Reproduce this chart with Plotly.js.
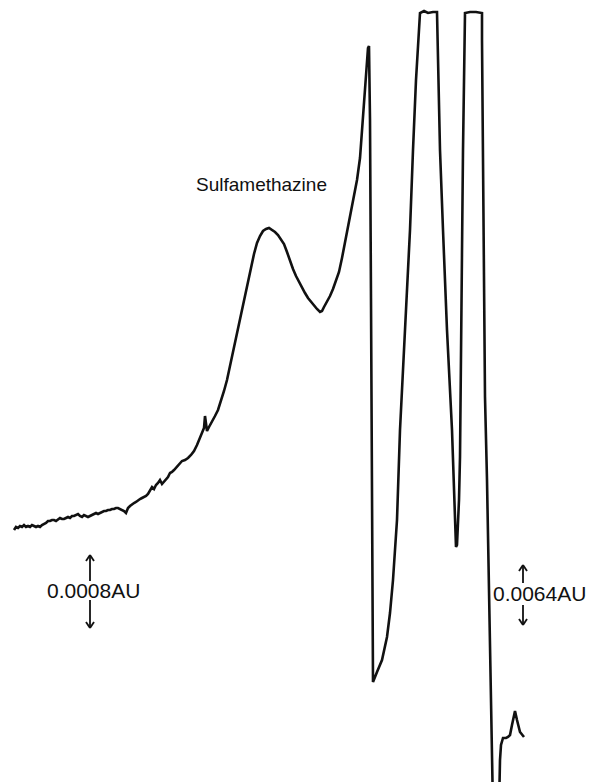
<!DOCTYPE html>
<html>
<head>
<meta charset="utf-8">
<script src="https://cdn.plot.ly/plotly-3.0.1.min.js"></script>
<style>html,body{margin:0;padding:0;background:#fff;}#chart{width:589px;height:782px;}</style>
</head>
<body>
<div id="chart"></div>
<script>
// Retention (arbitrary time units, left to right)
const time = [
  14,16,18,20,22,24,26,28,30,32,
  34,36,38,40,42,44,46,48,50,52,
  54,56,58,60,62,64,66,68,70,72,
  74,76,78,80,82,84,86,88,90,92,
  94,96,98,100,102,104,106,108,110,112,
  114,116,118,120,122,124,126,128,130,132,
  134,136,138,140,142,144,146,148,150,152,
  154,156,158,160,162,164,166,168,170,172,
  174,176,178,180,182,
  185,188,191,194,197,200,202,204,205,206,207,209,212,215,218,221,224,227,
  230,233,236,239,242,245,248,251,254,257,260,263,266,269,272,275,278,281,284,287,290,293,296,299,302,305,308,311,314,317,320,
  322,324,327,330,333,336,339,342,345,348,351,354,357,360,363,365,367,368,369,
  370,371,372,373,377,382,387,390,393,397,400,405,410,413,416,420,424,428,433,437,
  440,443,447,452,455,456,457,459,460,462,463,465,470,476,482,482,485,487,489,490,493,
  496,499,500,501,503,506,508,510,512,514,515,517,520,524
];
// Recorder pen position (px from top of chart paper); response = 782 - position
const penPos = [
  530,527,528,526,527,525,527,526,527,525,
  526,527,526,527,525,524,523,521,521,520,
  520,521,519,518,519,519,518,517,518,516,
  516,515,514,516,517,515,516,517,516,515,
  514,513,514,513,512,511,511,510,510,509,
  509,508,508,509,510,511,513,508,506,504,
  503,502,500,499,498,497,496,494,491,487,
  489,485,483,480,484,482,480,477,473,472,
  470,468,466,463,461,
  460,458,455,451,445,437,432,428,416,424,431,427,422,416,410,401,391,380,
  366,351,336,321,307,294,281,267,254,243,236,231,229,228,230,232,235,239,244,252,261,269,276,282,288,293,298,302,306,309,312,
  311,307,302,296,289,281,272,258,243,226,210,198,180,158,117,88,60,48,46,
  120,300,500,682,672,660,637,613,580,520,430,330,230,150,80,13,11,13,12,12,
  150,230,330,430,510,547,545,500,457,230,150,13,12,12,13,40,397,480,580,640,810,
  830,810,760,745,738,738,737,735,725,713,711,720,732,737
];
const signal = penPos.map(v => 782 - v);

const labels = ["Sulfamethazine", "0.0008AU", "0.0064AU"];

const black = '#111';
function arrowShapes(x, yTipUp, yTailUp, yTailDown, yTipDown) {
  const s = [];
  const L = (x0,y0,x1,y1) => ({type:'line', xref:'x', yref:'y', x0:x0, y0:782-y0, x1:x1, y1:782-y1, line:{color:black, width:1.8}});
  s.push(L(x, yTipUp, x, yTailUp));
  s.push(L(x-4, yTipUp+6, x, yTipUp));
  s.push(L(x+4, yTipUp+6, x, yTipUp));
  s.push(L(x, yTailDown, x, yTipDown));
  s.push(L(x-4, yTipDown-6, x, yTipDown));
  s.push(L(x+4, yTipDown-6, x, yTipDown));
  return s;
}

const shapes = [].concat(
  arrowShapes(90, 555, 581, 600, 628),
  arrowShapes(523, 565, 583, 605, 625)
);

const font = {family: 'Liberation Sans, Arial, sans-serif', color: black};

const data = [{
  x: time, y: signal, type: 'scatter', mode: 'lines',
  line: {color: black, width: 2.6, shape: 'linear'},
  hoverinfo: 'skip'
}];

const layout = {
  width: 589, height: 782,
  margin: {l:0, r:0, t:0, b:0},
  paper_bgcolor: '#fff', plot_bgcolor: '#fff',
  showlegend: false,
  xaxis: {range:[0,589], visible:false, fixedrange:true},
  yaxis: {range:[0,782], visible:false, fixedrange:true},
  shapes: shapes,
  annotations: [
    {x: 261, y: 782-184, xref:'x', yref:'y', text: labels[0], showarrow:false, font: Object.assign({size:19}, font), xanchor:'center', yanchor:'middle'},
    {x: 93, y: 782-590, xref:'x', yref:'y', text: labels[1], showarrow:false, font: Object.assign({size:21}, font), xanchor:'center', yanchor:'middle'},
    {x: 539, y: 782-593, xref:'x', yref:'y', text: labels[2], showarrow:false, font: Object.assign({size:21}, font), xanchor:'center', yanchor:'middle'}
  ]
};

Plotly.newPlot('chart', data, layout, {staticPlot:true, displayModeBar:false});
</script>
</body>
</html>
